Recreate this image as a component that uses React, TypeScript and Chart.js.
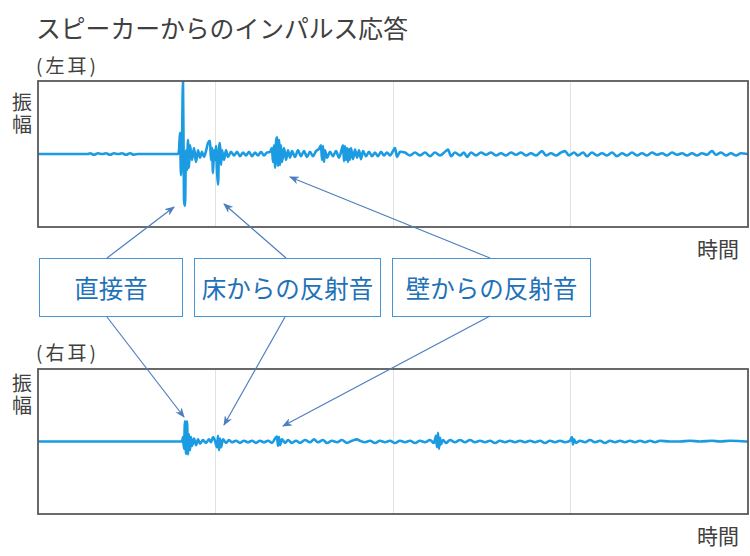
import React, { useEffect, useRef } from "react";
import { Chart, registerables } from "chart.js";

Chart.register(...registerables);

// Time axis (samples) and amplitude range
const TIME_MAX = 710;
const GRID_STEP = 177.5;
const AMP_RANGE = 100;

// Left ear impulse response
const LEFT_T = [
  0, 50, 52, 56, 60, 64, 68, 72, 76, 80, 84, 88, 92, 96, 100, 120, 140,
  141, 142, 143, 144, 145, 146, 147, 148, 149, 150, 151, 152,
  154, 156, 158, 160, 162, 164, 166, 168,
  170, 172, 173, 174, 175, 176, 177, 178, 179, 180, 181, 182, 183, 184,
  186, 188, 190, 193, 196, 199, 202, 205, 208, 211, 214, 217, 220, 223, 226, 229,
  232, 234, 235, 236, 237, 238, 239, 240, 241, 242, 243, 244,
  246, 248, 250, 252, 254, 257, 260, 263, 266, 269, 272, 275, 278, 281,
  283, 284, 285, 286, 287, 289,
  292, 295, 298, 301, 304, 305, 306, 307, 308, 309, 310, 311, 312, 313,
  315, 317, 319, 321, 323, 325, 328, 331, 334, 337, 340, 343, 346, 349, 352, 355, 357, 359, 362,
  367, 372, 377, 382, 387, 392, 397, 402, 407, 410, 413, 417, 422, 426, 429, 433,
  438, 443, 448, 453, 458, 463, 468, 473, 478, 483, 488, 493, 498, 504, 508, 513, 518, 523, 527, 531,
  536, 540, 545, 549, 554, 559, 564, 569, 574, 579, 584, 589, 594, 599, 604, 609, 614, 619, 624, 629,
  634, 639, 644, 649, 654, 659, 664, 669, 674, 678, 683, 688, 693, 698, 703, 710,
];
const LEFT_AMP = [
  0, 0, 1, -1, 1, 0, 1, -1, 1, 0, 1, -1, 1, -1, 0, 0, 0,
  5, 29, -29, 19, 100, -63, -71, 5, -22, 19, -19, 12,
  -8, 8, -11, 5, -5, 3, -4, 4,
  15, 18, -8, 8, -26, 5, -8, 11, -22, -42, 5, 15, -15, 5,
  -8, 5, -4, 3, -2, 3, -3, 2, -2, 3, -3, 2, -2, 3, -2, 2,
  3, 8, -11, 12, -19, 16, 23, -16, 19, -15, 12, -11,
  8, -8, 5, -5, 4, -4, 5, -3, 4, -4, 3, -3, 4, 7,
  12, -8, 11, -11, 5, -5,
  3, -3, 4, -5, 8, 12, -10, 11, -8, 8, -11, 7, -8, 8,
  -7, 6, -5, 5, -7, 4, -3, 3, -3, 2, -3, 3, -2, 2, -2, 4, 8, -4, 3,
  2, -2, 2, -2, 2, -3, 2, -2, 3, 6, -3, 2, -2, 2, -4, 2,
  -2, 2, -1, 2, -2, 1, -2, 2, -1, 2, -2, 1, -2, 4, -2, 1, -2, 2, 4, -2,
  2, -2, 2, -3, 2, -2, 1, -2, 2, -3, 1, -2, 2, -2, 1, -2, 2, -1, 1, -2,
  2, -1, 1, -2, 1, -2, 1, -1, 4, -1, 2, -2, 1, -2, 1, 0,
];

// Right ear impulse response
const RIGHT_T = [
  0, 144, 145, 146, 147, 148, 149, 150, 151, 152, 153, 154,
  156, 158, 160, 162, 165, 168, 171, 173, 175, 177, 179, 180, 181, 182, 183,
  185, 188, 191, 194, 198, 202, 206, 210, 214, 218, 222, 226, 230, 234,
  237, 239, 240, 241, 242, 244, 247, 250, 254, 258, 262, 267, 272, 276, 280,
  285, 289, 294, 299, 304, 309, 314, 319, 322, 327, 332, 337, 342, 347, 352, 357, 362, 367, 372, 377, 382, 387, 392, 396,
  398, 399, 400, 401, 402, 403, 405, 408, 412, 417, 422, 427, 432, 437,
  442, 447, 452, 457, 462, 467, 472, 477, 482, 487, 492, 497, 502, 507, 512, 517, 522, 527, 532,
  534, 535, 536, 538, 542, 547, 552, 557, 562, 567, 572, 577, 582, 587, 592, 597, 602, 607, 612, 617, 622,
  632, 642, 652, 662, 674, 682, 692, 710,
];
const RIGHT_AMP = [
  0, 0, 6, -10, 28, -17, 28, -18, 10, -12, 6, -6,
  4, -5, 3, -3, 2, -2, 3, -1, 6, 1, -8, 8, -12, 4, -8,
  3, -2, 2, -1, 1, -2, 1, -1, 1, -2, 1, -1, 1, -2,
  4, 7, -6, 6, -5, 3, -2, 2, -2, 1, -2, 2, -1, 3, -1,
  2, -2, 1, -1, 2, -2, 1, 3, 1, -1, 1, -2, 1, -1, 1, -2, 1, -1, 1, -2, 1, -1, 2, -2,
  8, -8, 12, -10, 5, -4, 2, -2, 2, -1, 2, -1, 2, -1,
  1, -1, 1, -2, 1, -1, 1, -1, 1, -1, 1, -1, 1, -2, 1, -1, 1, -1, 1,
  6, -4, 3, -2, 1, -1, 2, -1, 1, -2, 1, -1, 1, -1, 1, -1, 1, -1, 1, -1, 1,
  0, 0, 1, 0, 1, 0, 1, 0,
];

const FONT = '"Noto Sans CJK JP", "Noto Sans", sans-serif';
const TEXT_GREY = "#404040";
const WAVE_BLUE = "#1a9be2";
const ARROW_BLUE = "#4d7ebf";
const BOX_BLUE = "#4a94d2";
const BOX_TEXT = "#1f72b8";

const framePlugin = {
  id: "frame",
  afterDraw(chart: any) {
    const { ctx, chartArea: a } = chart;
    ctx.save();
    ctx.strokeStyle = "#5a5a5a";
    ctx.lineWidth = 1.8;
    ctx.strokeRect(a.left, a.top, a.right - a.left, a.bottom - a.top);
    ctx.restore();
  },
};

function Wave(props: { t: number[]; amp: number[]; left: number; top: number; width: number; height: number }) {
  const ref = useRef<HTMLCanvasElement>(null);
  useEffect(() => {
    if (!ref.current) return;
    const data = props.t.map((x, i) => ({ x, y: props.amp[i] }));
    const chart = new Chart(ref.current, {
      type: "line",
      data: {
        datasets: [
          {
            data,
            borderColor: WAVE_BLUE,
            borderWidth: 2.6,
            pointRadius: 0,
            cubicInterpolationMode: "monotone",
            fill: false,
          },
        ],
      },
      options: {
        animation: false,
        responsive: false,
        maintainAspectRatio: false,
        layout: { padding: 2 },
        plugins: { legend: { display: false }, tooltip: { enabled: false } },
        scales: {
          x: {
            type: "linear",
            min: 0,
            max: TIME_MAX,
            ticks: { display: false, stepSize: GRID_STEP },
            grid: { color: "#e2e2e2", drawTicks: false },
            border: { display: false },
          },
          y: {
            min: -AMP_RANGE,
            max: AMP_RANGE,
            ticks: { display: false },
            grid: { display: false, drawTicks: false },
            border: { display: false },
          },
        },
      },
      plugins: [framePlugin],
    } as any);
    return () => chart.destroy();
  }, []);
  return (
    <canvas
      ref={ref}
      width={props.width}
      height={props.height}
      style={{ position: "absolute", left: props.left, top: props.top, width: props.width, height: props.height }}
    />
  );
}

function Label(props: { text: React.ReactNode; left: number; top: number; size: number; lh?: number; spacing?: number }) {
  return (
    <div
      style={{
        position: "absolute",
        left: props.left,
        top: props.top,
        fontSize: props.size,
        lineHeight: (props.lh ?? props.size) + "px",
        letterSpacing: props.spacing ?? 0,
        color: TEXT_GREY,
        whiteSpace: "nowrap",
      }}
    >
      {props.text}
    </div>
  );
}

function Box(props: { text: string; left: number; width: number }) {
  return (
    <div
      style={{
        position: "absolute",
        left: props.left,
        top: 258,
        width: props.width,
        height: 59,
        boxSizing: "border-box",
        border: `1.5px solid ${BOX_BLUE}`,
        display: "flex",
        alignItems: "center",
        justifyContent: "center",
        color: BOX_TEXT,
        fontSize: 24.5,
        whiteSpace: "nowrap",
        background: "#fff",
      }}
    >
      {props.text}
    </div>
  );
}

const ARROWS = [
  [107, 258, 174, 207],
  [286, 258, 224, 204],
  [490, 258, 290, 177],
  [107, 317, 184, 417],
  [285, 317, 224, 425],
  [490, 316, 283, 426],
];

export default function App() {
  return (
    <div
      style={{
        position: "fixed",
        left: 0,
        top: 0,
        width: 750,
        height: 556,
        background: "#fff",
        fontFamily: FONT,
        overflow: "hidden",
      }}
    >
      <Label text="スピーカーからのインパルス応答" left={36} top={15} size={24.8} />
      <Label text="(左耳)" left={36} top={55} size={19} spacing={3} />
      <Label text={<>振<br />幅</>} left={12} top={91} size={20} lh={22} />
      <Label text="時間" left={697} top={238} size={21} />

      <Wave t={LEFT_T} amp={LEFT_AMP} left={36} top={79} width={714} height={150} />

      <Box text="直接音" left={39} width={144} />
      <Box text="床からの反射音" left={194} width={187} />
      <Box text="壁からの反射音" left={392} width={199} />

      <Label text="(右耳)" left={36} top={342} size={19} spacing={3} />
      <Label text={<>振<br />幅</>} left={12} top={372} size={20} lh={22} />
      <Label text="時間" left={697} top={525} size={21} />

      <Wave t={RIGHT_T} amp={RIGHT_AMP} left={36} top={367} width={714} height={149} />

      <svg
        width={750}
        height={556}
        style={{ position: "absolute", left: 0, top: 0, pointerEvents: "none" }}
      >
        <defs>
          <marker id="ah" viewBox="0 0 10 8" refX="9" refY="4" markerWidth="10" markerHeight="8" markerUnits="userSpaceOnUse" orient="auto">
            <path d="M0,0 L10,4 L0,8 L3,4 z" fill={ARROW_BLUE} />
          </marker>
        </defs>
        {ARROWS.map((a, i) => (
          <line key={i} x1={a[0]} y1={a[1]} x2={a[2]} y2={a[3]} stroke={ARROW_BLUE} strokeWidth={1.2} markerEnd="url(#ah)" />
        ))}
      </svg>
    </div>
  );
}
